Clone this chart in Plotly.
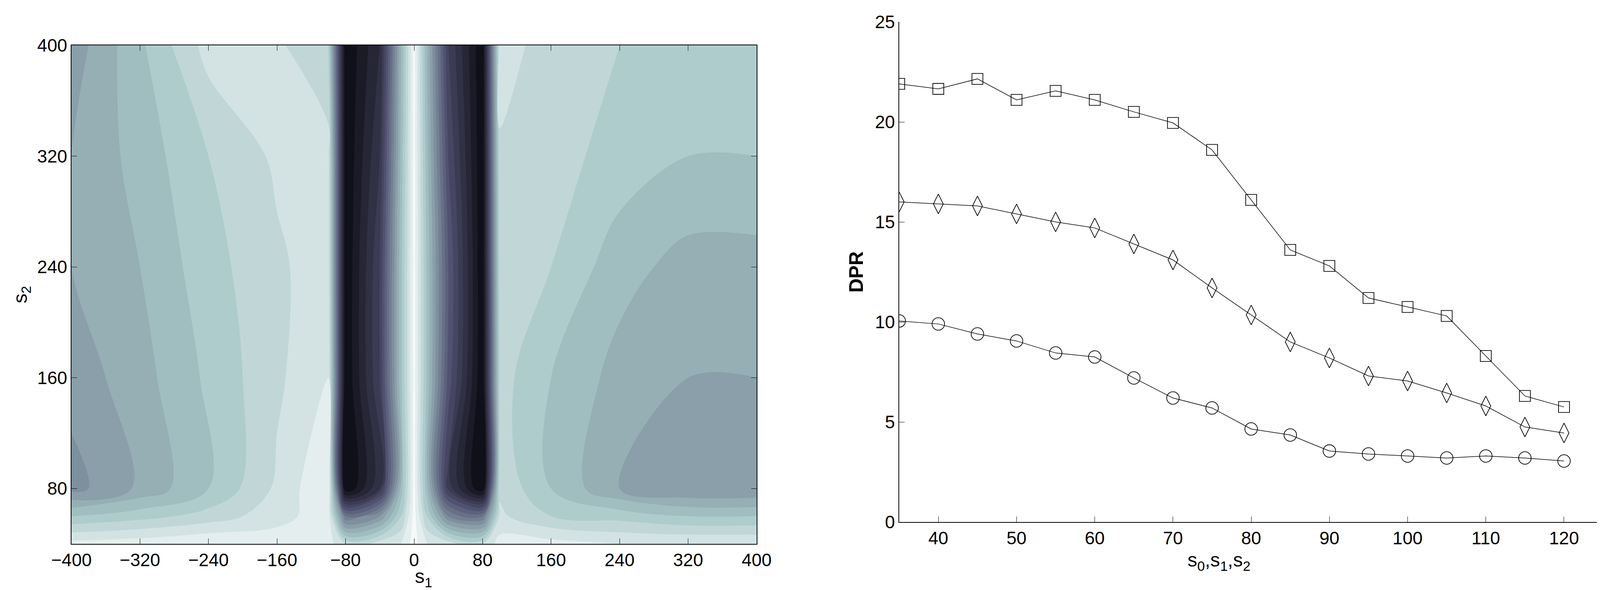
import plotly.graph_objects as go

# --- left panel: contour of s1 x s2 (0 = dark, 1 = white)
s1 = [-400, -320, -240, -160, -100, -80, -40, -15, 0, 15, 40, 80, 100, 160, 240, 320, 400]
s2 = [40, 60, 80, 160, 240, 320, 400]
z = [
    [0.92, 0.93, 0.95, 0.93, 0.92, 0.85, 0.88, 0.9, 0.97, 0.9, 0.88, 0.85, 0.92, 0.92, 0.9, 0.9, 0.9],
    [0.75, 0.78, 0.82, 0.88, 0.93, 0.5, 0.6, 0.8, 0.97, 0.8, 0.55, 0.5, 0.86, 0.8, 0.78, 0.75, 0.75],
    [0.58, 0.66, 0.75, 0.86, 0.95, 0.04, 0.25, 0.72, 0.97, 0.72, 0.28, 0.04, 0.84, 0.75, 0.65, 0.6, 0.6],
    [0.62, 0.68, 0.76, 0.84, 0.9, 0.05, 0.3, 0.74, 0.97, 0.74, 0.38, 0.05, 0.82, 0.75, 0.68, 0.65, 0.65],
    [0.65, 0.7, 0.78, 0.84, 0.88, 0.05, 0.3, 0.74, 0.97, 0.74, 0.4, 0.05, 0.83, 0.8, 0.72, 0.68, 0.68],
    [0.65, 0.72, 0.8, 0.86, 0.87, 0.05, 0.25, 0.72, 0.97, 0.72, 0.35, 0.05, 0.84, 0.82, 0.78, 0.75, 0.75],
    [0.62, 0.74, 0.87, 0.86, 0.8, 0.05, 0.2, 0.7, 0.97, 0.7, 0.3, 0.05, 0.88, 0.82, 0.8, 0.78, 0.78],
]

# --- right panel: DPR curves
sizes = [35, 40, 45, 50, 55, 60, 65, 70, 75, 80, 85, 90, 95, 100, 105, 110, 115, 120]
dpr_square = [21.9, 21.65, 22.15, 21.1, 21.55, 21.1, 20.5, 19.95, 18.6, 16.1, 13.6, 12.8,
              11.2, 10.75, 10.3, 8.3, 6.3, 5.75]
dpr_diamond = [16.0, 15.9, 15.8, 15.4, 15.0, 14.7, 13.9, 13.1, 11.7, 10.35, 9.0, 8.2,
               7.3, 7.05, 6.45, 5.8, 4.75, 4.45]
dpr_circle = [10.05, 9.9, 9.4, 9.05, 8.45, 8.25, 7.2, 6.2, 5.7, 4.65, 4.35, 3.55,
              3.4, 3.3, 3.2, 3.3, 3.2, 3.05]

BONE = [
    [0.0, "rgb(0,0,4)"],
    [0.375, "rgb(81,81,113)"],
    [0.75, "rgb(166,198,198)"],
    [1.0, "rgb(255,255,255)"],
]
FONT = "Liberation Sans, Arial, sans-serif"

fig = go.Figure()
fig.add_trace(go.Contour(
    x=s1, y=s2, z=z, colorscale=BONE, zmin=0, zmax=1,
    contours=dict(start=0, end=1, size=0.05, coloring="fill", showlines=False),
    line=dict(width=0), showscale=False, xaxis="x", yaxis="y",
))
for vals, sym, sz in ((dpr_square, "square-open", 28), (dpr_diamond, "diamond-tall-open", 36),
                      (dpr_circle, "circle-open", 32)):
    fig.add_trace(go.Scatter(
        x=sizes, y=vals, mode="lines+markers", xaxis="x2", yaxis="y2",
        line=dict(color="black", width=1.5),
        marker=dict(symbol=sym, size=sz, color="black", line=dict(width=1.8)),
        showlegend=False,
    ))

axis_common = dict(
    showgrid=False, zeroline=False, ticks="inside", ticklen=14, automargin=False,
    linecolor="black", linewidth=1.5, tickcolor="black",
    tickfont=dict(family=FONT, size=46, color="black"),
)
title_font = dict(family=FONT, size=50, color="black")
fig.update_layout(
    width=4128, height=1510, paper_bgcolor="white", plot_bgcolor="white",
    margin=dict(l=0, r=0, t=0, b=0),
    xaxis=dict(axis_common, domain=[175 / 4128, 1929 / 4128], range=[-400, 400],
               tickvals=[-400, -320, -240, -160, -80, 0, 80, 160, 240, 320, 400],
               mirror="ticks", showline=True),
    yaxis=dict(axis_common, domain=[1 - 1384 / 1510, 1 - 108 / 1510], range=[40, 400],
               tickvals=[80, 160, 240, 320, 400], mirror="ticks", showline=True,
               title=dict(text="s<sub>2</sub>", font=title_font, standoff=10)),
    xaxis2=dict(axis_common, domain=[2294 / 4128, 4096 / 4128], range=[35, 125],
                tickvals=list(range(40, 121, 10)), showline=True, anchor="y2"),
    yaxis2=dict(axis_common, domain=[1 - 1328 / 1510, 1 - 48 / 1510], range=[0, 25],
                tickvals=[0, 5, 10, 15, 20, 25], showline=True, anchor="x2",
                title=dict(text="<b>DPR</b>", font=title_font, standoff=14)),
)
# x 축 제목은 주석으로 — 눈금 라벨과 겹치지 않게
fig.add_annotation(text="s<sub>1</sub>", xref="paper", yref="paper",
                   x=(175 + 1929) / 2 / 4128, y=1 - 1470 / 1510, yanchor="middle",
                   showarrow=False, font=title_font)
fig.add_annotation(text="s<sub>0</sub>,s<sub>1</sub>,s<sub>2</sub>", xref="paper", yref="paper",
                   x=(2294 + 4096) / 2 / 4128, y=1 - 1428 / 1510, yanchor="middle",
                   showarrow=False, font=title_font)
fig.write_html("out.html")
